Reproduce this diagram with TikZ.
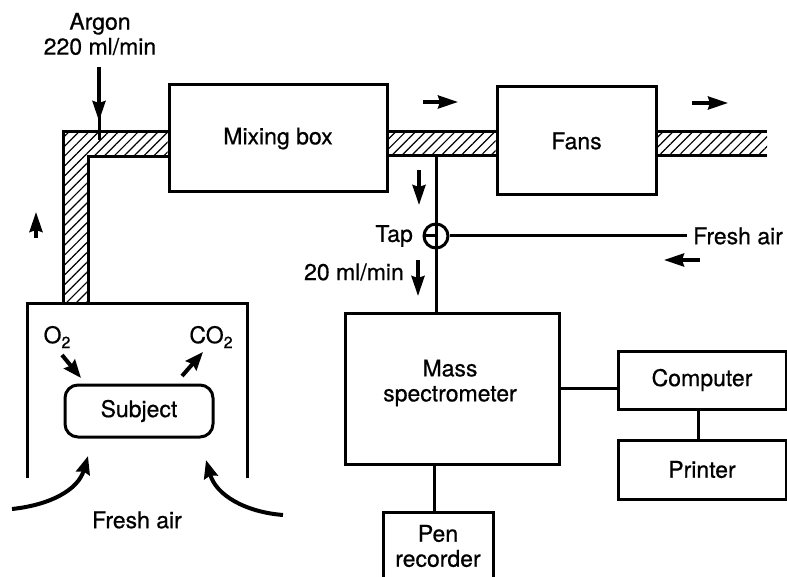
\documentclass[tikz,border=0pt]{standalone}
\usepackage{fontspec}
\setmainfont{TeX Gyre Heros}[FakeBold=0.6]
\usetikzlibrary{arrows.meta,patterns.meta}
\newcommand\subtwo{\raisebox{-0.4ex}{\fontsize{16}{16}\selectfont 2}}
\tikzset{
  lw/.style={line width=3pt},
  box/.style={draw, lw, inner sep=0pt, align=center},
  txt/.style={inner sep=0pt, align=center},
  flow/.style={line width=3.5pt, -{Stealth[length=20pt,width=13pt,inset=2pt]}},
  thickflow/.style={line width=4pt, -{Stealth[length=18pt,width=14pt,inset=2pt]}},
  hatch/.style={pattern={Lines[angle=45,distance=7pt,line width=1.2pt]}},
}
\begin{document}
\begin{tikzpicture}[x=1pt,y=-1pt,font=\fontsize{23}{25}\selectfont]
\useasboundingbox (0,0) rectangle (787,577);
\clip (0,0) rectangle (787,577);

% boxes
\node[box, minimum width=218pt, minimum height=107pt] (mix) at (278,138.5) {Mixing box};
\node[box, minimum width=159pt, minimum height=108pt] (fans) at (576.5,141) {Fans};
\node[box, minimum width=214pt, minimum height=150pt] (ms) at (452,389) {};
\node[txt] (mslabel) at (450,383) {Mass\\spectrometer};
\node[box, minimum width=168pt, minimum height=58pt] (comp) at (702,380) {Computer};
\node[box, minimum width=168pt, minimum height=59pt] (prn) at (702,469.5) {Printer};
\node[box, minimum width=110pt, minimum height=100pt] (pen) at (438,562) {};
\node[txt] (penlabel) at (438,546) {Pen\\recorder};
\node[box, minimum width=148pt, minimum height=52pt, rounded corners=13pt] (subj) at (139,411) {Subject};

% hatched pipes
\fill[hatch] (63,303) -- (63,132) -- (mix.west |- 0,132) -- (mix.west |- 0,157) -- (88,157) -- (88,303) -- cycle;
\draw[lw] (63,303) -- (63,132) -- (mix.west |- 0,132);
\draw[lw] (mix.west |- 0,157) -- (88,157) -- (88,303);
\fill[hatch] (mix.east |- 0,132) rectangle (fans.west |- 0,156);
\draw[lw] (mix.east |- 0,132) -- (fans.west |- 0,132);
\draw[lw] (mix.east |- 0,156) -- (fans.west |- 0,156);
\fill[hatch] (fans.east |- 0,132) rectangle (767,156);
\draw[lw] (fans.east |- 0,132) -- (767,132);
\draw[lw] (fans.east |- 0,156) -- (767,156);

% chamber
\draw[lw] (27,478) -- (27,304) -- (247,304) -- (247,478);

% argon
\node[txt] (argon) at (100,34) {Argon\\220 ml/min};
\coordinate (argEnd) at (99,140);
\draw[flow] (argon.south -| argEnd) ++(0,12) -- (99,121);
\draw[line width=3pt] (99,115) -- (argEnd);

% flow arrows
\coordinate (upA) at (36,238);
\coordinate (upB) at (36,212);
\draw[flow] (upA) -- (upB);
\coordinate (r1a) at (423,102);
\coordinate (r1b) at (458,102);
\draw[flow] (r1a) -- (r1b);
\coordinate (r2a) at (692,103);
\coordinate (r2b) at (728,103);
\draw[flow] (r2a) -- (r2b);
\coordinate (la) at (700,260);
\coordinate (lb) at (664,260);
\draw[flow] (la) -- (lb);
\coordinate (d1a) at (419,170);
\coordinate (d1b) at (419,205);
\draw[flow] (d1a) -- (d1b);
\coordinate (d2a) at (418,260);
\coordinate (d2b) at (418,296);
\draw[flow] (d2a) -- (d2b);

% tap
\node[draw, lw, circle, minimum size=24pt, inner sep=0pt] (tap) at (436,236) {};
\coordinate (tapTop) at (436,156);
\draw[lw] (tapTop) -- (tapTop |- ms.north);
\draw[lw] (tap.west) -- (tap.center);
\node[txt, anchor=east] (taplabel) at (413,236) {Tap};
\node[txt, anchor=west, inner xsep=6pt] (fa) at (687,236) {Fresh air};
\draw[lw] (tap.east) -- (fa.west);
\node[txt, anchor=east] (rate) at (404,272) {20 ml/min};

% instrument links
\draw[lw] ([yshift=-8pt]comp.west) -- ([yshift=-8pt]comp.west -| ms.east);
\draw[lw] ([xshift=-4pt]comp.south) -- ([xshift=-4pt]prn.north);
\draw[lw] ([xshift=-4pt]pen.north) -- ([xshift=-4pt]pen.north |- ms.south);

% gases
\node[txt] (o2) at (57,337) {O\subtwo};
\node[txt] (co2) at (211,337) {CO\subtwo};
\coordinate (o2a) at (62,355);
\coordinate (o2b) at (81,378);
\draw[thickflow] (o2a) -- (o2b);
\coordinate (co2a) at (182,376);
\coordinate (co2b) at (203,352);
\draw[thickflow] (co2a) -- (co2b);

% fresh air into chamber
\coordinate (fl1) at (12,509);
\coordinate (fl2) at (88,456);
\draw[thickflow] (fl1) .. controls (50,505) and (78,490) .. (fl2);
\coordinate (fr1) at (283,515);
\coordinate (fr2) at (206,460);
\draw[thickflow] (fr1) .. controls (245,512) and (216,495) .. (fr2);
\node[txt] (fresh) at (137,520) {Fresh air};
\end{tikzpicture}
\end{document}
